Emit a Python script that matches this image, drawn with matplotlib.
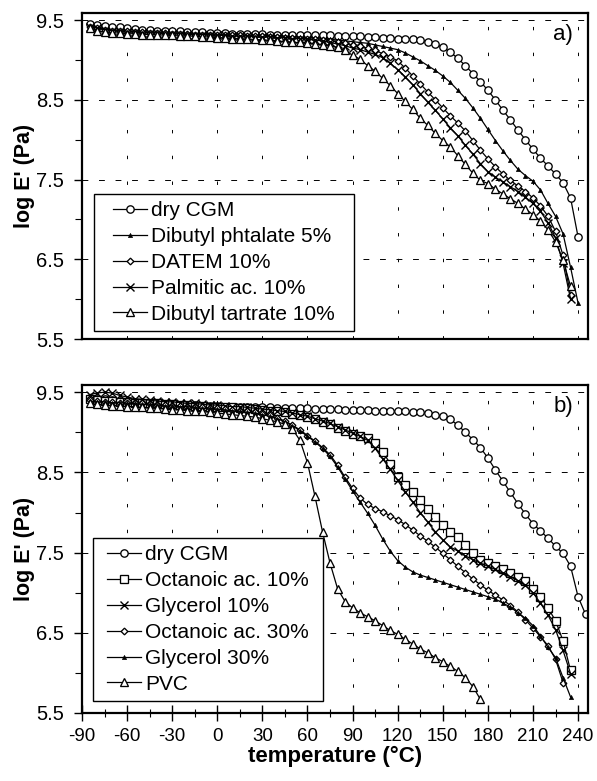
import numpy as np
import matplotlib
matplotlib.use("Agg")
import matplotlib.pyplot as plt
from matplotlib.ticker import MultipleLocator
from matplotlib.patches import Rectangle

plt.rcParams['font.family'] = ['Liberation Sans', 'DejaVu Sans']
plt.rcParams['axes.unicode_minus'] = False

N = None
temps = [-85, -80, -75, -70, -65, -60, -55, -50, -45, -40,
         -35, -30, -25, -20, -15, -10, -5, 0, 5, 10,
         15, 20, 25, 30, 35, 40, 45, 50, 55, 60,
         65, 70, 75, 80, 85, 90, 95, 100, 105, 110,
         115, 120, 125, 130, 135, 140, 145, 150, 155, 160,
         165, 170, 175, 180, 185, 190, 195, 200, 205, 210,
         215, 220, 225, 230, 235, 240, 245]

# ---- panel a ----
a_dry_cgm = [9.45, 9.44, 9.43, 9.42, 9.41, 9.40, 9.39, 9.38, 9.38, 9.37,
             9.37, 9.36, 9.36, 9.35, 9.35, 9.35, 9.34, 9.34, 9.34, 9.33,
             9.33, 9.33, 9.33, 9.33, 9.32, 9.32, 9.32, 9.32, 9.32, 9.31,
             9.31, 9.31, 9.31, 9.30, 9.30, 9.30, 9.30, 9.29, 9.29, 9.28,
             9.28, 9.27, 9.27, 9.26, 9.25, 9.23, 9.20, 9.16, 9.10, 9.02,
             8.93, 8.83, 8.73, 8.62, 8.50, 8.37, 8.25, 8.12, 8.00, 7.88,
             7.77, 7.67, 7.57, 7.46, 7.27, 6.78, N]
a_dibutyl_phtalate = [9.43, 9.41, 9.39, 9.38, 9.37, 9.36, 9.36, 9.35, 9.35, 9.35,
                      9.34, 9.34, 9.34, 9.33, 9.33, 9.33, 9.33, 9.32, 9.32, 9.32,
                      9.32, 9.31, 9.31, 9.31, 9.31, 9.30, 9.30, 9.29, 9.29, 9.28,
                      9.28, 9.27, 9.26, 9.25, 9.24, 9.23, 9.22, 9.21, 9.19, 9.17,
                      9.15, 9.13, 9.09, 9.04, 8.99, 8.93, 8.87, 8.80, 8.72, 8.62,
                      8.52, 8.40, 8.27, 8.13, 7.99, 7.86, 7.74, 7.63, 7.55, 7.48,
                      7.37, 7.20, 7.04, 6.82, 6.40, 5.95, N]
a_datem = [9.42, 9.40, 9.38, 9.37, 9.36, 9.36, 9.35, 9.35, 9.34, 9.34,
           9.34, 9.33, 9.33, 9.33, 9.32, 9.32, 9.32, 9.31, 9.31, 9.31,
           9.31, 9.30, 9.30, 9.30, 9.29, 9.29, 9.28, 9.28, 9.27, 9.27,
           9.26, 9.25, 9.24, 9.23, 9.21, 9.19, 9.17, 9.15, 9.12, 9.08,
           9.04, 8.99, 8.90, 8.80, 8.70, 8.60, 8.50, 8.40, 8.30, 8.21,
           8.11, 7.99, 7.87, 7.76, 7.66, 7.57, 7.49, 7.42, 7.35, 7.27,
           7.17, 7.04, 6.85, 6.55, 6.05, N, N]
a_palmitic = [9.42, 9.40, 9.38, 9.37, 9.36, 9.35, 9.35, 9.34, 9.34, 9.34,
              9.33, 9.33, 9.33, 9.32, 9.32, 9.32, 9.31, 9.31, 9.31, 9.30,
              9.30, 9.30, 9.29, 9.29, 9.29, 9.28, 9.28, 9.27, 9.27, 9.26,
              9.25, 9.24, 9.22, 9.20, 9.18, 9.15, 9.13, 9.10, 9.07, 9.03,
              8.96, 8.88, 8.79, 8.69, 8.58, 8.47, 8.37, 8.26, 8.15, 8.05,
              7.93, 7.82, 7.70, 7.60, 7.53, 7.47, 7.41, 7.35, 7.28, 7.20,
              7.10, 6.96, 6.77, 6.45, 6.00, N, N]
a_tartrate = [9.40, 9.37, 9.35, 9.34, 9.34, 9.33, 9.33, 9.32, 9.32, 9.32,
              9.31, 9.31, 9.30, 9.30, 9.30, 9.29, 9.29, 9.28, 9.28, 9.27,
              9.27, 9.26, 9.26, 9.25, 9.25, 9.24, 9.23, 9.22, 9.22, 9.21,
              9.20, 9.19, 9.18, 9.16, 9.12, 9.06, 9.01, 8.93, 8.86, 8.77,
              8.68, 8.58, 8.48, 8.38, 8.27, 8.18, 8.08, 7.99, 7.91, 7.80,
              7.69, 7.58, 7.49, 7.45, 7.38, 7.32, 7.26, 7.20, 7.13, 7.06,
              6.98, 6.87, 6.72, 6.49, 6.16, N, N]

# ---- panel b ----
b_dry_cgm = [9.43, 9.42, 9.41, 9.40, 9.39, 9.38, 9.37, 9.37, 9.36, 9.36,
             9.35, 9.35, 9.34, 9.34, 9.34, 9.33, 9.33, 9.33, 9.32, 9.32,
             9.32, 9.31, 9.31, 9.31, 9.31, 9.30, 9.30, 9.30, 9.30, 9.30,
             9.29, 9.29, 9.29, 9.29, 9.28, 9.28, 9.28, 9.28, 9.27, 9.27,
             9.27, 9.26, 9.26, 9.25, 9.25, 9.24, 9.22, 9.20, 9.16, 9.09,
             9.00, 8.91, 8.81, 8.68, 8.53, 8.39, 8.25, 8.11, 7.98, 7.86,
             7.77, 7.68, 7.58, 7.49, 7.33, 6.95, 6.73]
b_octanoic10 = [9.41, 9.40, 9.39, 9.39, 9.38, 9.38, 9.37, 9.37, 9.36, 9.36,
                9.35, 9.35, 9.34, 9.34, 9.33, 9.33, 9.32, 9.32, 9.31, 9.31,
                9.30, 9.30, 9.29, 9.28, 9.27, 9.26, 9.25, 9.23, 9.21, 9.19,
                9.16, 9.13, 9.10, 9.06, 9.02, 8.98, 8.95, 8.93, 8.87, 8.76,
                8.61, 8.44, 8.34, 8.25, 8.15, 8.04, 7.94, 7.84, 7.76, 7.69,
                7.59, 7.49, 7.41, 7.37, 7.33, 7.29, 7.24, 7.19, 7.14, 7.05,
                6.95, 6.81, 6.65, 6.40, 6.03, N, N]
b_glycerol10 = [9.47, 9.49, 9.50, 9.49, 9.46, 9.44, 9.42, 9.41, 9.40, 9.39,
                9.38, 9.38, 9.37, 9.36, 9.36, 9.35, 9.34, 9.34, 9.33, 9.32,
                9.32, 9.31, 9.30, 9.29, 9.28, 9.27, 9.26, 9.24, 9.22, 9.20,
                9.17, 9.14, 9.11, 9.07, 9.03, 8.99, 8.95, 8.90, 8.80, 8.67,
                8.54, 8.40, 8.26, 8.13, 8.00, 7.88, 7.76, 7.66, 7.57, 7.52,
                7.46, 7.41, 7.37, 7.33, 7.29, 7.24, 7.20, 7.15, 7.09, 7.00,
                6.87, 6.72, 6.54, 6.28, 5.99, N, N]
b_octanoic30 = [9.40, 9.39, 9.38, 9.38, 9.37, 9.37, 9.36, 9.36, 9.35, 9.34,
                9.34, 9.33, 9.33, 9.32, 9.31, 9.31, 9.30, 9.30, 9.29, 9.28,
                9.27, 9.26, 9.25, 9.23, 9.21, 9.18, 9.14, 9.09, 9.03, 8.96,
                8.89, 8.81, 8.72, 8.59, 8.44, 8.30, 8.18, 8.10, 8.05, 8.01,
                7.96, 7.91, 7.85, 7.78, 7.71, 7.64, 7.57, 7.49, 7.41, 7.33,
                7.25, 7.17, 7.10, 7.03, 6.97, 6.91, 6.84, 6.76, 6.66, 6.56,
                6.45, 6.34, 6.17, 5.88, N, N, N]
b_glycerol30 = [9.39, 9.38, 9.38, 9.37, 9.37, 9.36, 9.36, 9.35, 9.35, 9.34,
                9.33, 9.33, 9.32, 9.32, 9.31, 9.30, 9.30, 9.29, 9.28, 9.27,
                9.26, 9.25, 9.24, 9.22, 9.20, 9.17, 9.13, 9.08, 9.02, 8.95,
                8.88, 8.80, 8.70, 8.57, 8.42, 8.27, 8.13, 7.99, 7.84, 7.67,
                7.52, 7.40, 7.32, 7.26, 7.22, 7.19, 7.16, 7.13, 7.10, 7.07,
                7.04, 7.01, 6.98, 6.95, 6.92, 6.87, 6.82, 6.75, 6.68, 6.59,
                6.46, 6.32, 6.19, 5.94, 5.70, N, N]
b_pvc = [9.36, 9.35, 9.34, 9.33, 9.33, 9.32, 9.32, 9.31, 9.30, 9.30,
         9.29, 9.28, 9.28, 9.27, 9.26, 9.26, 9.25, 9.24, 9.23, 9.22,
         9.21, 9.20, 9.19, 9.17, 9.15, 9.13, 9.10, 9.04, 8.90, 8.62,
         8.20, 7.76, 7.37, 7.05, 6.89, 6.81, 6.75, 6.70, 6.65, 6.59,
         6.53, 6.48, 6.42, 6.36, 6.30, 6.25, 6.19, 6.14, 6.08, 6.02,
         5.94, 5.83, 5.67, N, N, N, N, N, N, N,
         N, N, N, N, N, N, N]

x_ticks = [-90, -60, -30, 0, 30, 60, 90, 120, 150, 180, 210, 240]
y_ticks = [5.5, 6.5, 7.5, 8.5, 9.5]

def arr(v):
    return np.array([np.nan if e is None else e for e in v], dtype=float)

T = np.array(temps, dtype=float)

STY = {
    'circle': dict(marker='o', ms=5.3, mfc='white', mec='black', mew=0.95),
    'small_tri': dict(marker='^', ms=3.0, mfc='black', mec='black', mew=0.5),
    'diamond': dict(marker='D', ms=3.4, mfc='white', mec='black', mew=0.95),
    'cross': dict(marker='x', ms=5.3, mec='black', mew=1.0),
    'tri': dict(marker='^', ms=5.3, mfc='white', mec='black', mew=0.95),
    'square': dict(marker='s', ms=5.8, mfc='white', mec='black', mew=0.95),
}

W, H = 597, 781
fig = plt.figure(figsize=(W/100, H/100), dpi=100)
ax_a = fig.add_axes([82/W, 1-339/H, 506/W, 326/H])
ax_b = fig.add_axes([82/W, 1-713/H, 506/W, 328/H])

series_a = [
    ("dry CGM", a_dry_cgm, 'circle'),
    ("Dibutyl phtalate 5%", a_dibutyl_phtalate, 'small_tri'),
    ("DATEM 10%", a_datem, 'diamond'),
    ("Palmitic ac. 10%", a_palmitic, 'cross'),
    ("Dibutyl tartrate 10%", a_tartrate, 'tri'),
]
series_b = [
    ("dry CGM", b_dry_cgm, 'circle'),
    ("Octanoic ac. 10%", b_octanoic10, 'square'),
    ("Glycerol 10%", b_glycerol10, 'cross'),
    ("Octanoic ac. 30%", b_octanoic30, 'diamond'),
    ("Glycerol 30%", b_glycerol30, 'small_tri'),
    ("PVC", b_pvc, 'tri'),
]

def setup(ax, bottom_labels):
    ax.set_xlim(-90, 246.6)
    ax.set_ylim(5.5, 9.59)
    ax.set_xticks(x_ticks)
    ax.set_yticks(y_ticks)
    ax.yaxis.set_minor_locator(MultipleLocator(0.5))
    ax.xaxis.set_minor_locator(MultipleLocator(15))
    for s in ax.spines.values():
        s.set_linewidth(1.6)
    ax.tick_params(axis='y', which='major', direction='out', length=6, width=1.0, labelsize=14.5, pad=7)
    ax.tick_params(axis='y', which='minor', direction='out', length=5, width=0.8)
    if bottom_labels:
        ax.tick_params(axis='x', which='major', direction='inout', length=11, width=1.0, labelsize=13.5, pad=5)
        ax.tick_params(axis='x', which='minor', direction='inout', length=6, width=0.8)
    else:
        ax.tick_params(axis='x', which='both', length=0, labelbottom=False)
    for yv in [6.5, 7.5, 8.5, 9.5]:
        ax.axhline(yv, color='black', lw=0.7, ls=(0, (6, 11)), zorder=0.5)
    for xv in x_ticks[1:]:
        ax.axvline(xv, color='black', lw=0.7, ls=(0, (3.5, 23)), zorder=0.5)
    ax.set_ylabel("log E' (Pa)", fontsize=15.5, fontweight='bold', labelpad=1)

def draw(ax, series, anchor_px, extra_px):
    for label, vals, key in series:
        ax.plot(T, arr(vals), color='black', lw=0.9, label=label, **STY[key])
    ax_w = ax.get_position().width * W
    ax_h = ax.get_position().height * H
    leg = ax.legend(loc='lower left',
                    bbox_to_anchor=(anchor_px[0] / ax_w, anchor_px[1] / ax_h),
                    borderaxespad=0, fontsize=15, frameon=False,
                    handlelength=1.6, handletextpad=0.2, labelspacing=0.33,
                    borderpad=0.35)
    leg.set_zorder(6)
    fig.canvas.draw()
    bb = leg.get_window_extent(fig.canvas.get_renderer())
    inv = ax.transAxes.inverted()
    (x0, y0) = inv.transform((bb.x0 - extra_px, bb.y0))
    (x1, y1) = inv.transform((bb.x1 + extra_px, bb.y1))
    ax.add_patch(Rectangle((x0, y0), x1 - x0, y1 - y0, transform=ax.transAxes,
                           facecolor='white', edgecolor='black', lw=1.0,
                           zorder=5.5, clip_on=False))

setup(ax_a, False)
setup(ax_b, True)
draw(ax_a, series_a, (24, 8), 12)
draw(ax_b, series_b, (18, 12), 7)

ax_a.text(0.97, 0.935, "a)", transform=ax_a.transAxes, fontsize=16, ha='right', va='center')
ax_b.text(0.97, 0.935, "b)", transform=ax_b.transAxes, fontsize=16, ha='right', va='center')
ax_b.set_xlabel("temperature (°C)", fontsize=16, fontweight='bold', labelpad=1)

fig.savefig("out.png", dpi=100)
